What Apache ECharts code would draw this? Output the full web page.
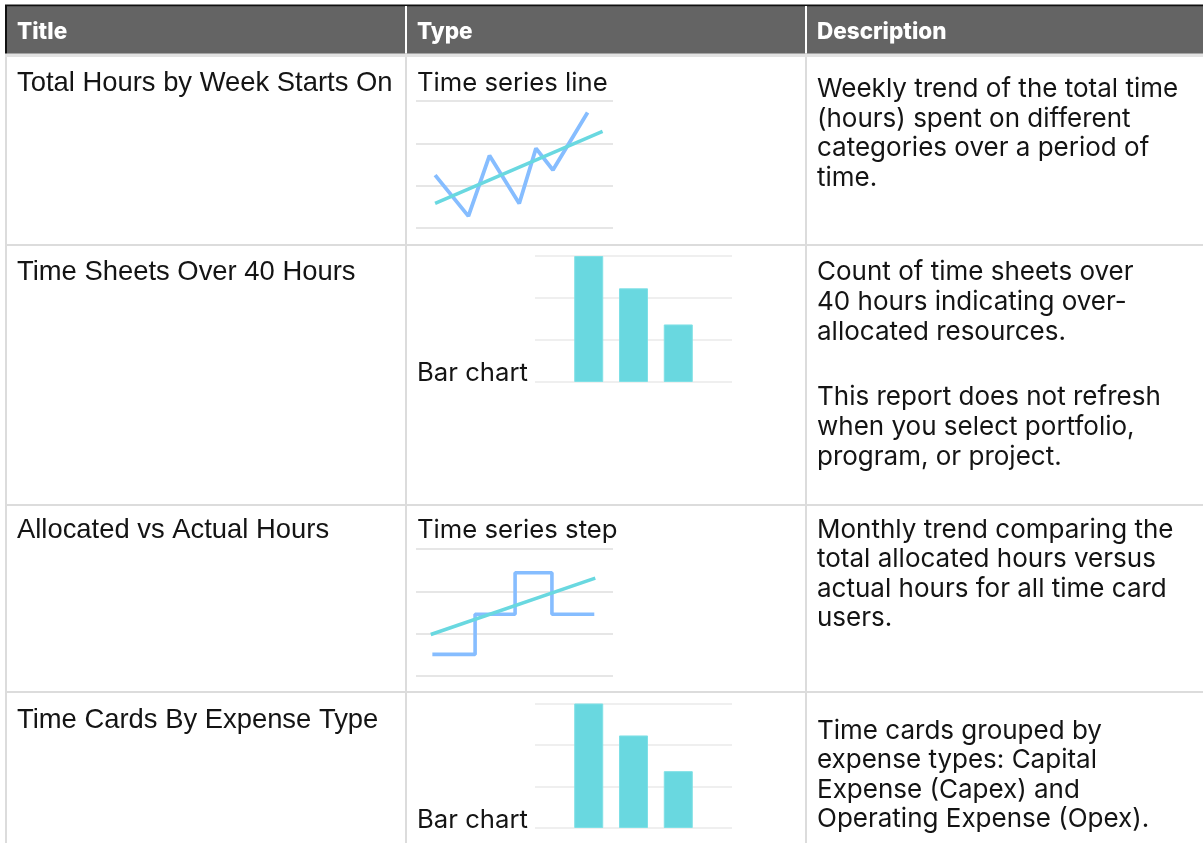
<!DOCTYPE html>
<html><head><meta charset="utf-8">
<script src="https://cdn.jsdelivr.net/npm/echarts@6/dist/echarts.min.js"></script>
<style>html,body{margin:0;padding:0;background:#fff;overflow:hidden}#c{width:1203px;height:843px;}</style>
</head><body><div id="c"></div>
<script>
// ---------- table content ----------
const headers = ['Title', 'Type', 'Description'];
const titles = ['Total Hours by Week Starts On', 'Time Sheets Over 40 Hours', 'Allocated vs Actual Hours', 'Time Cards By Expense Type'];
const types = ['Time series line', 'Bar chart', 'Time series step', 'Bar chart'];
const descriptions = [
  [['Weekly trend of the total time', '(hours) spent on different', 'categories over a period of', 'time.']],
  [['Count of time sheets over', '40 hours indicating over-', 'allocated resources.'],
   ['This report does not refresh', 'when you select portfolio,', 'program, or project.']],
  [['Monthly trend comparing the', 'total allocated hours versus', 'actual hours for all time card', 'users.']],
  [['Time cards grouped by', 'expense types: Capital', 'Expense (Capex) and', 'Operating Expense (Opex).']]
];

// ---------- mini chart data ----------
const yTicks = [0, 1, 2, 3];
// Row 1: time series line
const lineX = [9.7, 26.6, 37.3, 52.4, 60.9, 69.5, 87.1];
const lineY = [1.25, 0.28, 1.71, 0.58, 1.88, 1.37, 2.73];
const lineTrendX = [9.7, 94.7];
const lineTrendY = [0.58, 2.28];
// Row 2 and 4: bar charts
const barPos = [1.2, 2.2, 3.2];
const barValuesSheets = [3, 2.23, 1.37];
const barValuesExpense = [3, 2.23, 1.37];
// Row 3: time series step
const stepX = [8.3, 30, 50.3, 69, 90.5];
const stepY = [0.51, 1.46, 2.44, 1.46, 1.46];
const stepTrendX = [7.5, 91];
const stepTrendY = [0.98, 2.31];

// ---------- layout ----------
const W = 1203, H = 843;
const colX = [5, 405, 805];
const textX = [17, 417, 817];
const rowLines = [244, 504, 691];
const titleY = [83.5, 272, 530, 720];
const typeY = [83, 373, 530, 820];
const descY = [[89.5], [272, 397.5], [530], [731]];
const LH = [29.5, 30, 29.5, 29.5];

const TEXT = '#141414';
const BLUE = '#86bdff';
const CYAN = '#69d8e0';
const BODY_FONT = 'Inter';
const BODY_SIZE = 26;

const chart = echarts.init(document.getElementById('c'), null, {renderer: 'canvas', width: W, height: H});

const g = [];
// header band
g.push({type: 'rect', shape: {x: 5, y: 5, width: W - 5, height: 49}, style: {fill: '#646464'}});
g.push({type: 'rect', shape: {x: 5, y: 4.5, width: W - 5, height: 1.8}, style: {fill: '#111'}});
g.push({type: 'rect', shape: {x: 5, y: 5, width: 2, height: 49}, style: {fill: '#111'}});
g.push({type: 'rect', shape: {x: 5, y: 53.5, width: W - 5, height: 3.5}, style: {fill: '#e2e2e2'}});
[1, 2].forEach(i => g.push({type: 'rect', shape: {x: colX[i], y: 6, width: 2, height: 47.5}, style: {fill: '#fff'}}));
// body borders
colX.forEach(x => g.push({type: 'rect', shape: {x: x, y: 57, width: 2, height: H - 57}, style: {fill: '#dcdcdc'}}));
rowLines.forEach(y => g.push({type: 'rect', shape: {x: 5, y: y, width: W - 5, height: 2}, style: {fill: '#dcdcdc'}}));
// header texts
headers.forEach((h, i) => g.push({type: 'text', style: {text: h, x: textX[i], y: 32.5, fill: '#fff',
  font: '800 22.5px ' + BODY_FONT, verticalAlign: 'middle'}}));
// body texts
titles.forEach((t, r) => {
  g.push({type: 'text', style: {text: t, x: textX[0], y: titleY[r], fill: TEXT,
    font: '27.4px "Liberation Sans"', verticalAlign: 'middle'}});
  g.push({type: 'text', style: {text: types[r], x: textX[1], y: typeY[r], fill: TEXT,
    font: '25.7px ' + BODY_FONT, verticalAlign: 'middle'}});
  descriptions[r].forEach((para, p) => {
    g.push({type: 'text', style: {text: para.join('\n'), x: textX[2], y: descY[r][p] - LH[r] / 2, fill: TEXT,
      font: BODY_SIZE + 'px ' + BODY_FONT, lineHeight: LH[r], verticalAlign: 'top'}});
  });
});

const grids = [
  {left: 416, top: 101, width: 197, height: 127},
  {left: 535, top: 256, width: 197, height: 126},
  {left: 416, top: 549, width: 197, height: 127},
  {left: 535, top: 703.5, width: 197, height: 124.5}
].map(o => Object.assign({containLabel: false, outerBoundsMode: 'none', show: false}, o));

const splitCol = ['#e6e6e6', '#efefef', '#e6e6e6', '#efefef'];
const xAxes = grids.map((gr, i) => ({
  type: 'value', gridIndex: i, min: 0, max: (i % 2 === 1) ? 4.4 : 100,
  show: false, splitLine: {show: false}
}));
const yAxes = grids.map((gr, i) => ({
  type: 'value', gridIndex: i, min: yTicks[0], max: yTicks[yTicks.length - 1], interval: 1,
  axisLine: {show: false}, axisTick: {show: false}, axisLabel: {show: false},
  splitLine: {show: true, lineStyle: {color: splitCol[i], width: 2}}
}));

const zip = (a, b) => a.map((v, i) => [v, b[i]]);
const series = [
  {type: 'line', xAxisIndex: 0, yAxisIndex: 0, data: zip(lineX, lineY), showSymbol: false, symbol: 'none',
    lineStyle: {color: BLUE, width: 3.8}, z: 2},
  {type: 'line', xAxisIndex: 0, yAxisIndex: 0, data: zip(lineTrendX, lineTrendY), symbol: 'none',
    lineStyle: {color: CYAN, width: 3.5}, z: 3},
  {type: 'bar', xAxisIndex: 1, yAxisIndex: 1, data: zip(barPos, barValuesSheets), barWidth: 29,
    itemStyle: {color: CYAN, borderColor: '#7fe0e6', borderWidth: 1}},
  {type: 'line', xAxisIndex: 2, yAxisIndex: 2, data: zip(stepX, stepY), step: 'end', symbol: 'none',
    lineStyle: {color: BLUE, width: 3.6}, z: 2},
  {type: 'line', xAxisIndex: 2, yAxisIndex: 2, data: zip(stepTrendX, stepTrendY), symbol: 'none',
    lineStyle: {color: CYAN, width: 3.5}, z: 3},
  {type: 'bar', xAxisIndex: 3, yAxisIndex: 3, data: zip(barPos, barValuesExpense), barWidth: 29,
    itemStyle: {color: CYAN, borderColor: '#7fe0e6', borderWidth: 1}}
];

chart.setOption({
  animation: false,
  backgroundColor: '#fff',
  grid: grids, xAxis: xAxes, yAxis: yAxes, series: series,
  graphic: {elements: g}
});
</script>
</body></html>
